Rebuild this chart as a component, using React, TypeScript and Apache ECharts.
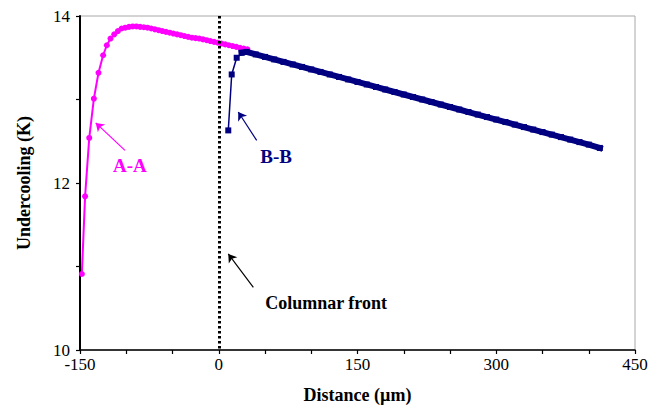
import React, { useEffect, useRef } from "react";
import * as echarts from "echarts";

// A-A section (magenta)
const aX = [-148, -144.5, -140, -135, -130, -125, -121, -117, -113, -109, -105, -101, -97, -93, -89, -85, -81, -77, -73, -69, -65, -61, -57, -53, -49, -45, -41, -37, -33, -29, -25, -21, -17, -13, -9, -5, -1, 3, 7, 11, 15, 19, 23, 27, 31];
const aY = [10.91, 11.84, 12.54, 13.01, 13.32, 13.53, 13.65, 13.73, 13.78, 13.82, 13.85, 13.86, 13.87, 13.875, 13.875, 13.87, 13.865, 13.86, 13.85, 13.84, 13.83, 13.82, 13.81, 13.8, 13.79, 13.78, 13.77, 13.76, 13.75, 13.74, 13.735, 13.73, 13.72, 13.71, 13.7, 13.69, 13.68, 13.67, 13.66, 13.65, 13.64, 13.63, 13.62, 13.61, 13.6];

// B-B section (navy)
const bX = [10.3, 14, 19.4, 24.8, 30, 40, 50, 60, 70, 80, 90, 100, 110, 120, 130, 140, 150, 160, 170, 180, 190, 200, 210, 220, 230, 240, 250, 260, 270, 280, 290, 300, 310, 320, 330, 340, 350, 360, 370, 380, 390, 400, 412];
const bY = [12.63, 13.3, 13.5, 13.56, 13.57, 13.54, 13.51, 13.48, 13.45, 13.42, 13.39, 13.36, 13.33, 13.3, 13.27, 13.24, 13.21, 13.18, 13.15, 13.12, 13.09, 13.06, 13.03, 13.0, 12.97, 12.94, 12.91, 12.88, 12.85, 12.82, 12.79, 12.76, 12.73, 12.7, 12.67, 12.64, 12.61, 12.58, 12.55, 12.52, 12.49, 12.46, 12.42];

// Columnar front position
const frontX = 0;

// Annotations: text, text position, arrow start, arrow end (data coords)
const annLabels = ["A-A", "B-B", "Columnar front"];
const annColors = ["#ff00ff", "#000080", "#000000"];
const annText = [[-96, 12.21], [62, 12.32], [116, 10.56]];
const annFrom = [[-101.4, 12.39], [41, 12.51], [37.4, 10.75]];
const annTo = [[-133, 12.72], [21.1, 12.85], [10.3, 11.15]];

const SERIF = "'Liberation Serif', 'Times New Roman', serif";

export default function App() {
  const ref = useRef<HTMLDivElement>(null);
  useEffect(() => {
    if (!ref.current) return;
    const chart = echarts.init(ref.current, undefined, { renderer: "svg" });
    const aData = aX.map((x, i) => [x, aY[i]]);
    const bData = bX.map((x, i) => [x, bY[i]]);
    const arrowLines = annLabels.map((_, i) => [
      { coord: annFrom[i], lineStyle: { color: annColors[i], width: 1.2, type: "solid" } },
      { coord: annTo[i] },
    ]);
    const labelPoints = annLabels.map((t, i) => ({
      coord: annText[i],
      symbol: "circle",
      symbolSize: 0,
      label: {
        show: true,
        formatter: t,
        position: "inside",
        color: annColors[i],
        fontFamily: SERIF,
        fontWeight: "bold",
        fontSize: i === 2 ? 18 : 19,
      },
    }));
    chart.setOption({
      animation: false,
      backgroundColor: "#fff",
      grid: { left: 80, top: 16, right: 19, bottom: 62, show: true, borderColor: "#a8a8a8", borderWidth: 1 },
      xAxis: {
        type: "value",
        min: -150,
        max: 450,
        interval: 50,
        name: "Distance (µm)",
        nameLocation: "middle",
        nameGap: 36,
        nameTextStyle: { fontFamily: SERIF, fontWeight: "bold", fontSize: 18, color: "#000" },
        axisLine: { show: true, onZero: false, lineStyle: { color: "#000", width: 1.5 } },
        axisTick: { show: true, length: 4, lineStyle: { color: "#000", width: 1.2 } },
        splitLine: { show: false },
        axisLabel: {
          color: "#000",
          fontFamily: SERIF,
          fontSize: 17,
          margin: 6,
          formatter: (v: number) => (v % 150 === 0 ? String(v) : ""),
        },
      },
      yAxis: {
        type: "value",
        min: 10,
        max: 14,
        interval: 1,
        name: "Undercooling (K)",
        nameLocation: "middle",
        nameGap: 47,
        nameTextStyle: { fontFamily: SERIF, fontWeight: "bold", fontSize: 18, color: "#000" },
        axisLine: { show: true, onZero: false, lineStyle: { color: "#000", width: 2 } },
        axisTick: { show: true, length: 4, lineStyle: { color: "#000", width: 1.2 } },
        splitLine: { show: false },
        axisLabel: {
          color: "#000",
          fontFamily: SERIF,
          fontSize: 17,
          margin: 10,
          formatter: (v: number) => (v % 2 === 0 ? String(v) : ""),
        },
      },
      series: [
        {
          name: "A-A",
          type: "line",
          data: aData,
          color: "#ff00ff",
          lineStyle: { width: 2, color: "#ff00ff" },
          symbol: "circle",
          symbolSize: 6,
          itemStyle: { color: "#ff00ff" },
          z: 3,
          markLine: {
            silent: true,
            symbol: ["none", "arrow"],
            symbolSize: 8,
            label: { show: false },
            data: [
              [
                { coord: [frontX, 14], symbol: "none", lineStyle: { color: "#000", width: 3, type: [2.5, 2.5] } },
                { coord: [frontX, 10], symbol: "none" },
              ],
              ...arrowLines,
            ],
          },
          markPoint: { silent: true, data: labelPoints },
        },
        {
          name: "B-B",
          type: "line",
          data: bData,
          color: "#000080",
          lineStyle: { width: 1.5, color: "#000080" },
          symbol: "rect",
          symbolSize: 6,
          itemStyle: { color: "#000080" },
          z: 4,
        },
        {
          name: "B-B band",
          type: "line",
          data: bData.slice(3),
          color: "#000080",
          lineStyle: { width: 6, color: "#000080", cap: "square" },
          symbol: "none",
          z: 5,
        },
      ],
    });
    return () => chart.dispose();
  }, []);
  return <div ref={ref} style={{ width: 654, height: 412, position: "absolute", left: 0, top: 0 }} />;
}
